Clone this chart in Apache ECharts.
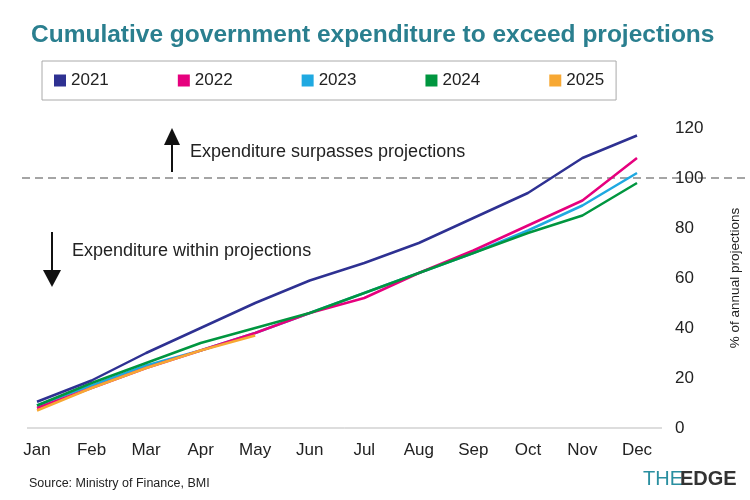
<!DOCTYPE html>
<html><head><meta charset="utf-8">
<script src="https://cdn.jsdelivr.net/npm/echarts@6/dist/echarts.min.js"></script>
<style>body{margin:0}#c{width:750px;height:500px}</style></head>
<body><div id="c"></div>
<script>
const months=['Jan','Feb','Mar','Apr','May','Jun','Jul','Aug','Sep','Oct','Nov','Dec'];
const s2021=[10.5,19,30,40,50,59,66,74,84,94,108,117];
const s2022=[8,16,24,31,38,46,52,62,71,81,91,108];
const s2023=[9,17,25,31,38,46,54,62,70,79,89,102];
const s2024=[9,18,26,34,40,46,54,62,70,78,85,98];
const s2025=[7,16,24,31,37];
const names=['2021','2022','2023','2024','2025'];
const colors=['#2e3192','#e6007e','#1fa9e1','#00963f','#f7a833'];
const zs=[10,8,7,9,11];
const data=[s2021,s2022,s2023,s2024,s2025];
const ch=echarts.init(document.getElementById('c'));
const F='Liberation Sans, Arial, sans-serif';
ch.setOption({
 animation:false,
 title:{text:'Cumulative government expenditure to exceed projections',left:26,top:18,
   textStyle:{color:'#2a7f8f',fontSize:24.5,fontWeight:'bold',fontFamily:F}},
 legend:{left:42,top:61,width:580,height:21,padding:[11,12],itemGap:69,borderColor:'#aaa',borderWidth:1,
   icon:'rect',itemWidth:12,itemHeight:12,textStyle:{fontSize:17,color:'#222',fontFamily:F},data:names},
 grid:{left:37,right:113,top:128,bottom:72},
 xAxis:{type:'category',data:months,boundaryGap:false,axisTick:{show:false},
   axisLine:{show:false},axisLabel:{fontSize:17,color:'#222',margin:14,fontFamily:F}},
 yAxis:{type:'value',position:'right',min:0,max:120,interval:20,splitLine:{show:false},
   axisLine:{show:false},axisTick:{show:false},
   axisLabel:{fontSize:17,color:'#222',margin:38,align:'left',fontFamily:F},
   name:'% of annual projections',nameLocation:'middle',nameRotate:90,nameGap:91,
   nameTextStyle:{fontSize:13.5,color:'#222',fontFamily:F}},
 series:data.map((d,i)=>({name:names[i],type:'line',data:d,symbol:'none',
   lineStyle:{width:2.5,color:colors[i]},itemStyle:{color:colors[i]},z:zs[i]}))
});
const y100=ch.convertToPixel({yAxisIndex:0},100);
const y0=ch.convertToPixel({yAxisIndex:0},0);
ch.setOption({graphic:[
 {type:'line',shape:{x1:27,y1:y0,x2:662,y2:y0},style:{stroke:'#bbb',lineWidth:1}},
 {type:'line',shape:{x1:22,y1:y100,x2:748,y2:y100},style:{stroke:'#888',lineWidth:1.5,lineDash:[8,5]}},
 {type:'line',shape:{x1:172,y1:172,x2:172,y2:140},style:{stroke:'#111',lineWidth:2}},
 {type:'polygon',shape:{points:[[164,145],[180,145],[172,128]]},style:{fill:'#111'}},
 {type:'text',x:190,y:143,style:{text:'Expenditure surpasses projections',font:'18px '+F,fill:'#222'}},
 {type:'line',shape:{x1:52,y1:232,x2:52,y2:275},style:{stroke:'#111',lineWidth:2}},
 {type:'polygon',shape:{points:[[43,270],[61,270],[52,287]]},style:{fill:'#111'}},
 {type:'text',x:72,y:242,style:{text:'Expenditure within projections',font:'18px '+F,fill:'#222'}},
 {type:'text',x:29,y:477,style:{text:'Source: Ministry of Finance, BMI',font:'12.5px '+F,fill:'#222'}},
 {type:'text',x:643,y:469,style:{text:'THE',font:'20px '+F,fill:'#2a8fa0'}},
 {type:'text',x:680,y:469,style:{text:'EDGE',font:'bold 20px '+F,fill:'#333'}}
]});
</script></body></html>
